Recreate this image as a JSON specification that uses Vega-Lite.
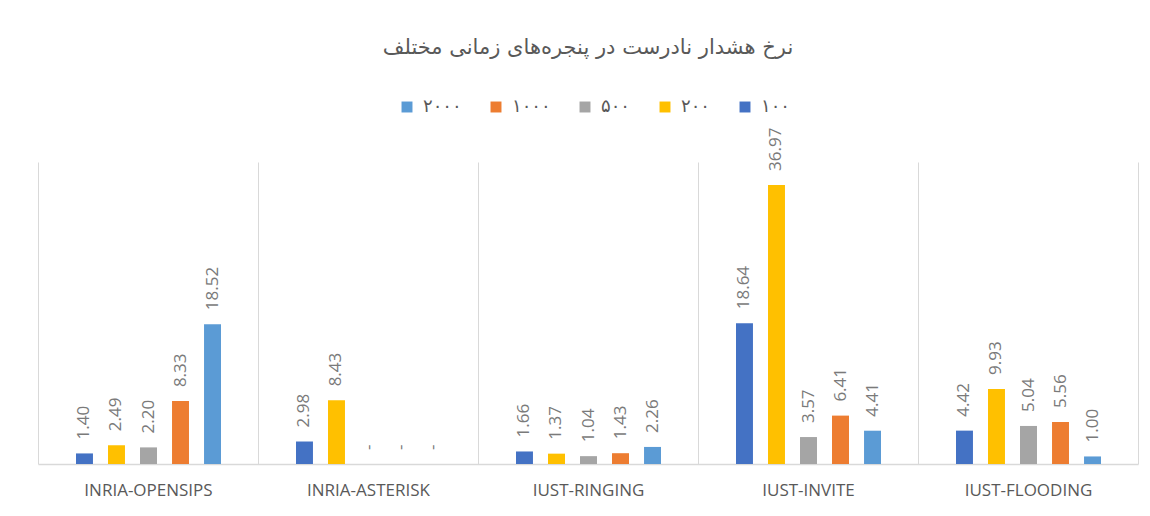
{
  "$schema": "https://vega.github.io/schema/vega-lite/v6.json",
  "autosize": "none",
  "width": 1100,
  "height": 302,
  "padding": {"left": 38, "top": 162, "right": 12, "bottom": 52},
  "background": "white",
  "title": {
    "text": "نرخ هشدار نادرست در پنجره‌های زمانی مختلف",
    "font": "DejaVu Sans",
    "fontSize": 21,
    "fontWeight": "normal",
    "color": "#595959",
    "anchor": "middle",
    "frame": "group",
    "offset": 40
  },
  "data": {
    "values": [
      {"source": "INRIA-OPENSIPS", "window": "۱۰۰", "value": 1.40, "label": "1.40"},
      {"source": "INRIA-OPENSIPS", "window": "۲۰۰", "value": 2.49, "label": "2.49"},
      {"source": "INRIA-OPENSIPS", "window": "۵۰۰", "value": 2.20, "label": "2.20"},
      {"source": "INRIA-OPENSIPS", "window": "۱۰۰۰", "value": 8.33, "label": "8.33"},
      {"source": "INRIA-OPENSIPS", "window": "۲۰۰۰", "value": 18.52, "label": "18.52"},
      {"source": "INRIA-ASTERISK", "window": "۱۰۰", "value": 2.98, "label": "2.98"},
      {"source": "INRIA-ASTERISK", "window": "۲۰۰", "value": 8.43, "label": "8.43"},
      {"source": "INRIA-ASTERISK", "window": "۵۰۰", "value": 0, "label": "-"},
      {"source": "INRIA-ASTERISK", "window": "۱۰۰۰", "value": 0, "label": "-"},
      {"source": "INRIA-ASTERISK", "window": "۲۰۰۰", "value": 0, "label": "-"},
      {"source": "IUST-RINGING", "window": "۱۰۰", "value": 1.66, "label": "1.66"},
      {"source": "IUST-RINGING", "window": "۲۰۰", "value": 1.37, "label": "1.37"},
      {"source": "IUST-RINGING", "window": "۵۰۰", "value": 1.04, "label": "1.04"},
      {"source": "IUST-RINGING", "window": "۱۰۰۰", "value": 1.43, "label": "1.43"},
      {"source": "IUST-RINGING", "window": "۲۰۰۰", "value": 2.26, "label": "2.26"},
      {"source": "IUST-INVITE", "window": "۱۰۰", "value": 18.64, "label": "18.64"},
      {"source": "IUST-INVITE", "window": "۲۰۰", "value": 36.97, "label": "36.97"},
      {"source": "IUST-INVITE", "window": "۵۰۰", "value": 3.57, "label": "3.57"},
      {"source": "IUST-INVITE", "window": "۱۰۰۰", "value": 6.41, "label": "6.41"},
      {"source": "IUST-INVITE", "window": "۲۰۰۰", "value": 4.41, "label": "4.41"},
      {"source": "IUST-FLOODING", "window": "۱۰۰", "value": 4.42, "label": "4.42"},
      {"source": "IUST-FLOODING", "window": "۲۰۰", "value": 9.93, "label": "9.93"},
      {"source": "IUST-FLOODING", "window": "۵۰۰", "value": 5.04, "label": "5.04"},
      {"source": "IUST-FLOODING", "window": "۱۰۰۰", "value": 5.56, "label": "5.56"},
      {"source": "IUST-FLOODING", "window": "۲۰۰۰", "value": 1.00, "label": "1.00"}
    ]
  },
  "encoding": {
    "x": {
      "field": "source",
      "type": "nominal",
      "sort": ["INRIA-OPENSIPS", "INRIA-ASTERISK", "IUST-RINGING", "IUST-INVITE", "IUST-FLOODING"],
      "scale": {"paddingInner": 0, "paddingOuter": 0},
      "axis": {
        "title": null,
        "labelAngle": 0,
        "tickBand": "extent",
        "grid": true,
        "gridColor": "#d9d9d9",
        "gridWidth": 1,
        "ticks": false,
        "domainColor": "#d9d9d9",
        "domainWidth": 1.5,
        "labelFont": "Open Sans",
        "labelFontSize": 17,
        "labelColor": "#595959",
        "labelPadding": 18
      }
    },
    "xOffset": {
      "field": "window",
      "type": "nominal",
      "sort": ["۱۰۰", "۲۰۰", "۵۰۰", "۱۰۰۰", "۲۰۰۰"],
      "scale": {"paddingInner": 0.47, "paddingOuter": 0, "range": [38, 183]}
    },
    "y": {
      "field": "value",
      "type": "quantitative",
      "scale": {"domain": [0, 40], "nice": false},
      "axis": null
    }
  },
  "layer": [
    {
      "mark": {"type": "bar"},
      "encoding": {
        "color": {
          "field": "window",
          "type": "nominal",
          "scale": {
            "domain": ["۲۰۰۰", "۱۰۰۰", "۵۰۰", "۲۰۰", "۱۰۰"],
            "range": ["#5b9bd5", "#ed7d31", "#a5a5a5", "#ffc000", "#4472c4"]
          },
          "legend": {
            "title": null,
            "orient": "none",
            "direction": "horizontal",
            "legendX": 360,
            "legendY": -64,
            "symbolType": "square",
            "symbolSize": 120,
            "symbolStrokeWidth": 0,
            "labelFont": "DejaVu Sans",
            "labelFontSize": 18,
            "labelColor": "#595959",
            "columnPadding": 25,
            "labelOffset": 7
          }
        }
      }
    },
    {
      "mark": {
        "type": "text",
        "angle": 270,
        "align": "left",
        "baseline": "middle",
        "dx": 14,
        "font": "Open Sans",
        "fontSize": 17,
        "color": "#7a7a7a"
      },
      "encoding": {
        "text": {"field": "label", "type": "nominal"}
      }
    }
  ],
  "config": {
    "view": {"stroke": null}
  }
}
